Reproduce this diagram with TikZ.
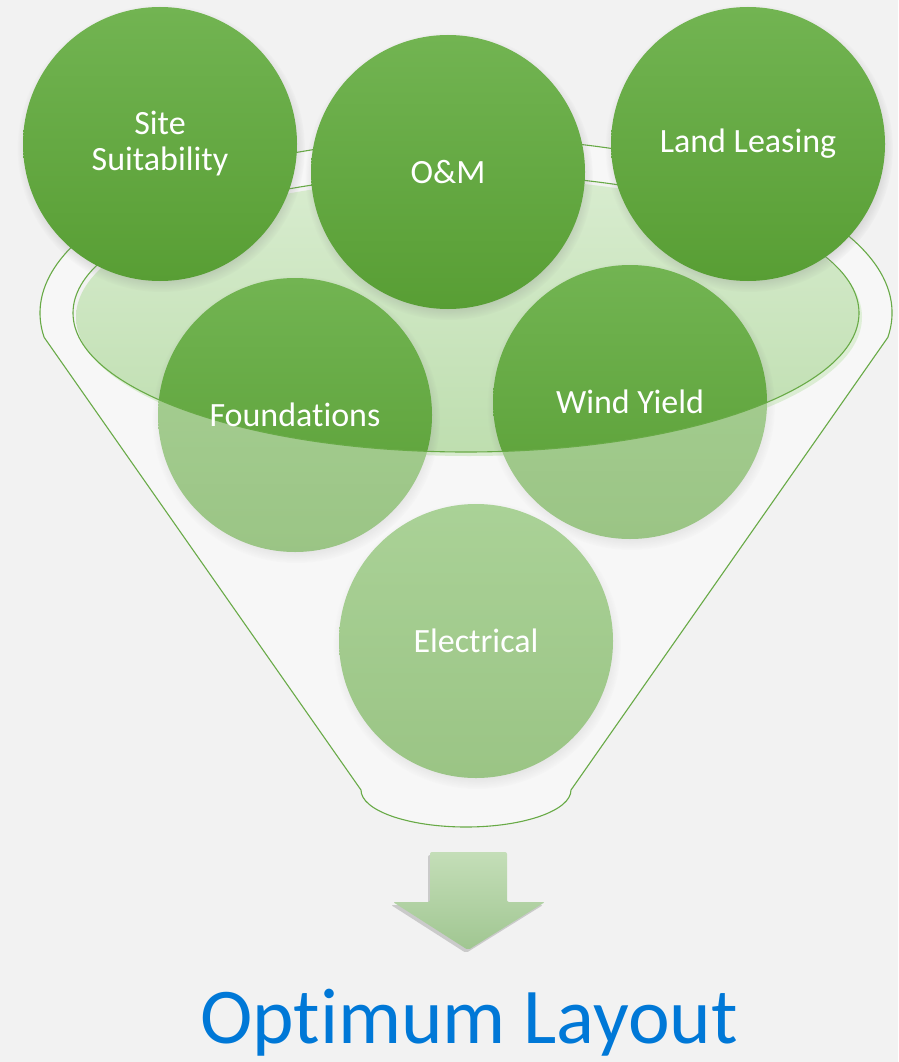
\documentclass[tikz,border=0pt]{standalone}
\usepackage{fontspec}
\setmainfont[Ligatures={NoCommon}]{Carlito}
\usetikzlibrary{shadows,fadings,positioning}
\definecolor{bgcol}{RGB}{242,242,242}
\definecolor{rimcol}{RGB}{104,170,70}
\definecolor{balltop}{RGB}{114,180,82}
\definecolor{ballbot}{RGB}{88,158,52}
\definecolor{lenstop}{RGB}{216,236,207}
\definecolor{lensbot}{RGB}{190,222,175}
\definecolor{arrtop}{RGB}{196,222,184}
\definecolor{arrbot}{RGB}{160,198,145}
\definecolor{outcol}{RGB}{0,120,215}
\tikzset{ball/.style={shape=circle, minimum size=274pt, inner sep=0pt,
    top color=balltop, bottom color=ballbot,
    circular drop shadow={shadow xshift=1pt, shadow yshift=-4pt,
      shadow scale=1.05, opacity=.45}}}
\tikzset{lbl/.style={text=white, align=center, font=\fontsize{34}{36}\selectfont}}
\tikzset{rim/.style={draw=rimcol, line width=1.1pt}}

\begin{document}
\begin{tikzpicture}[x=1pt, y=-1pt]
    \fill[bgcol] (0,0) rectangle (898,1062);
    \useasboundingbox (0,0) rectangle (898,1062);
    \coordinate (rimL) at ([shift={(466,313)}]172:426 and 175);
    \coordinate (rimR) at ([shift={(466,313)}]8:426 and 175);
    \coordinate (botL) at (361,790);
    % lens of the funnel
    \path[top color=lenstop, bottom color=lensbot] (469,317) ellipse [x radius=393, y radius=139];
    % circles inside the funnel
    \node[ball] (found) at (295,415) {};
    \node[ball] (wind) at (630,402) {};
    \node[ball] (elec) at (476,641) {};
    % front of the funnel
    \fill[white, opacity=.4, even odd rule] (rimL) -- (botL)
        arc[start angle=180, end angle=0, x radius=105, y radius=37] -- (rimR)
        arc[start angle=368, end angle=172, x radius=426, y radius=175] -- cycle
        (466,313) ellipse [x radius=393, y radius=139];
    \draw[rim] (rimL) -- (botL)
        arc[start angle=180, end angle=0, x radius=105, y radius=37] -- (rimR)
        arc[start angle=368, end angle=172, x radius=426, y radius=175] -- cycle;
    \draw[rim] (466,313) ellipse [x radius=393, y radius=139];
    % circles on top
    \node[ball, lbl] (site) at (160,144) {Site\\Suitability};
    \node[ball, lbl] (om) at (448,172) {O\&M};
    \node[ball, lbl] (lease) at (748,144) {Land Leasing};
    \node[lbl] at (found) {Foundations};
    \node[lbl] at (wind) {Wind Yield};
    \node[lbl] at (elec) {Electrical};
    % arrow and result
    \path[top color=arrtop, bottom color=arrbot, rounded corners=2pt,
        drop shadow={shadow xshift=-2pt, shadow yshift=-3pt, opacity=.35}]
        (430,902) -- (430,852) -- (507,852) -- (507,902) -- (545,902)
        -- (468,950) -- (393,902) -- cycle;
    \node[text=outcol, anchor=base, font=\fontsize{79}{90}\selectfont] (opt) at (469,1043) {Optimum Layout};
\end{tikzpicture}
\end{document}
